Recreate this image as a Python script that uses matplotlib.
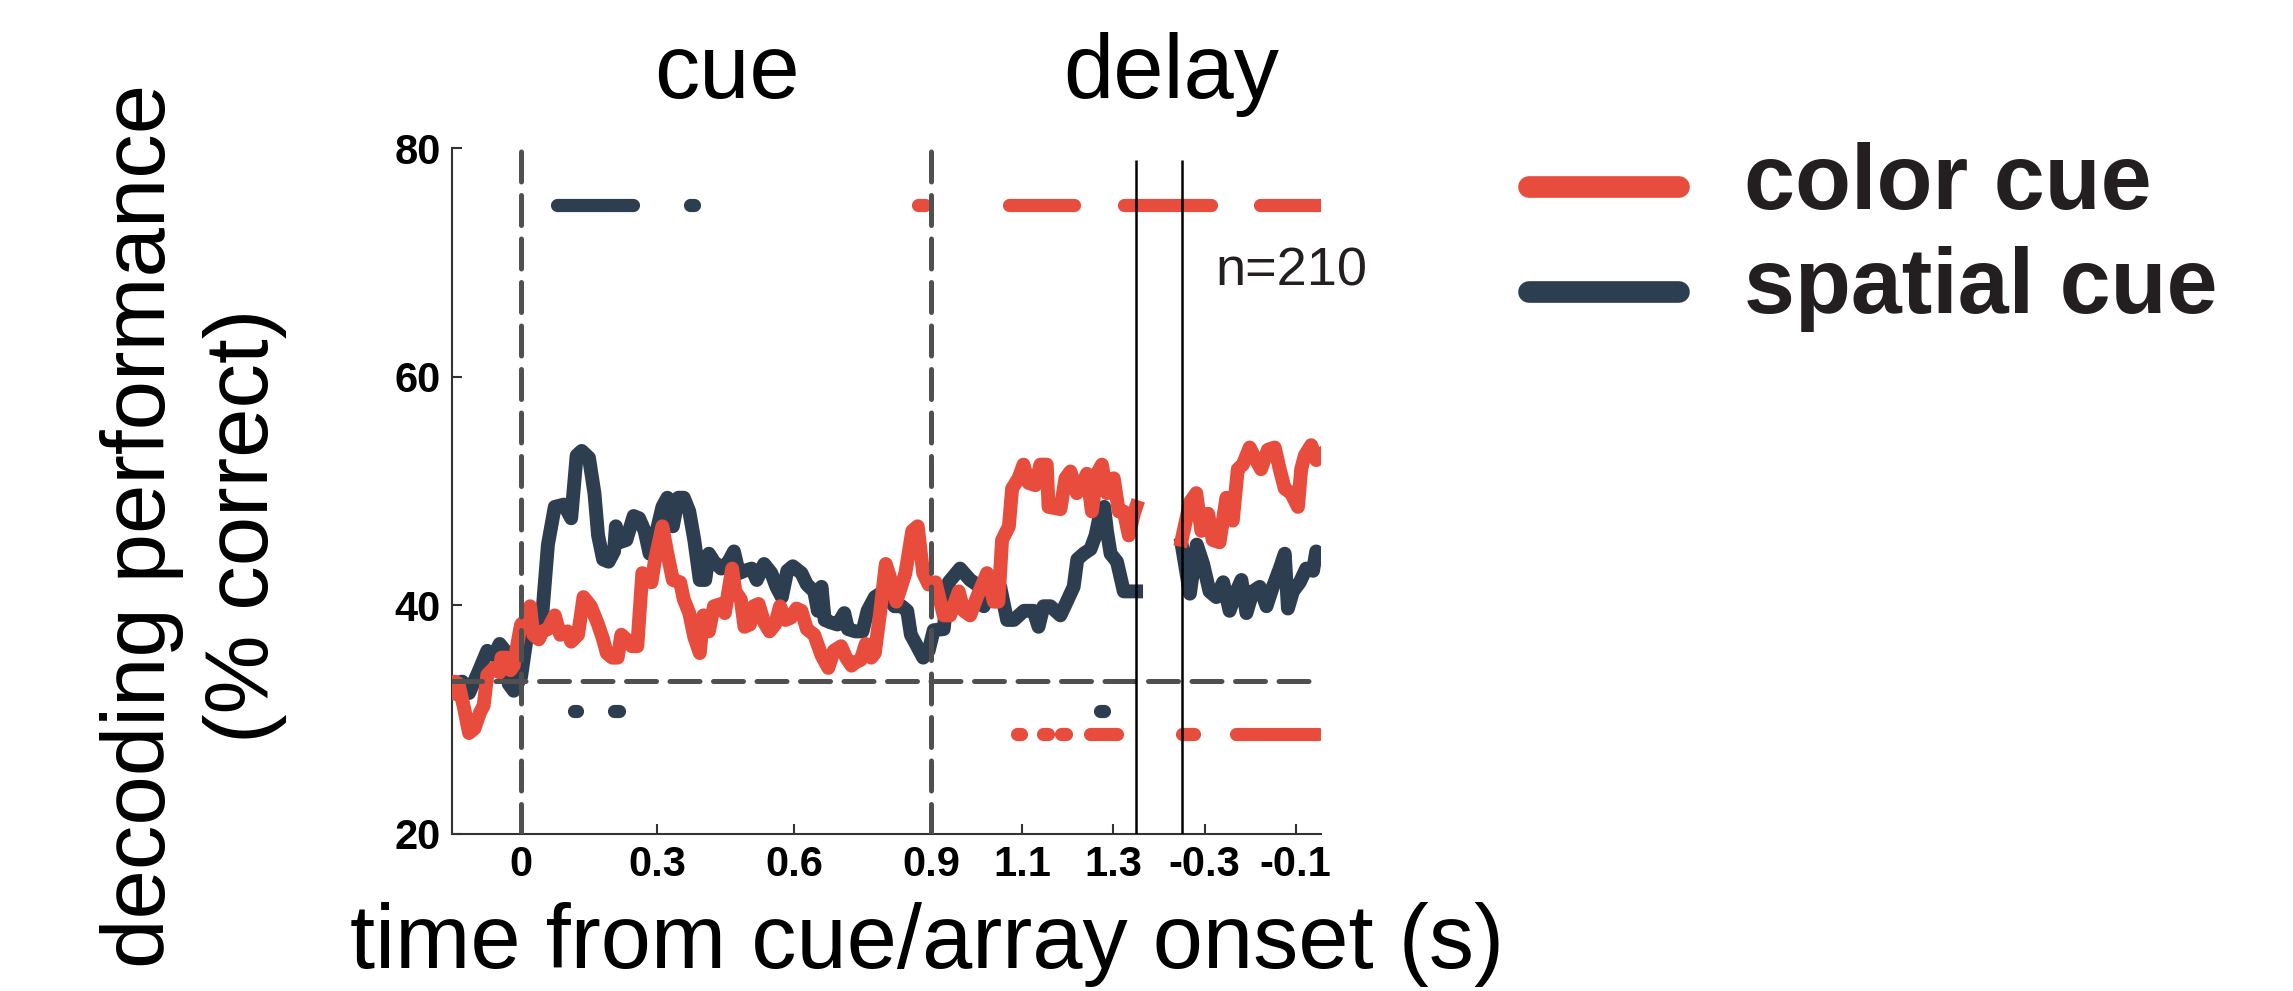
import matplotlib
matplotlib.use("Agg")
import matplotlib.pyplot as plt
import matplotlib.transforms as mtransforms
from matplotlib.lines import Line2D

plt.rcParams["font.family"] = ["Liberation Sans", "DejaVu Sans"]

RED = "#E74C3C"
NAVY = "#2C3E50"
GRAY = "#505050"
INK = "#231F20"
TICK_FONT = ["Liberation Sans Narrow", "Liberation Sans", "DejaVu Sans"]

# -------- time axis: cue-aligned part, gap, array-aligned part --------
CUE_END = 1.35
ARRAY_START = -0.35
GAP = 0.1
SHIFT = CUE_END + GAP - ARRAY_START      # array-aligned time -> plot x
CHANCE = 100 / 3

cue_ticks = [0, 0.3, 0.6, 0.9, 1.1, 1.3]
cue_tick_labels = ["0", "0.3", "0.6", "0.9", "1.1", "1.3"]
array_ticks = [-0.3, -0.1]
array_tick_labels = ["-0.3", "-0.1"]
y_ticks = [20, 40, 60, 80]

# -------- spatial cue (navy) --------
spatial_cue_t = [-0.150, -0.128, -0.113, -0.093, -0.073, -0.058, -0.046, -0.034, -0.026, -0.015,
                 0.001, 0.013, 0.028, 0.044, 0.060, 0.075, 0.095, 0.111, 0.123, 0.134,
                 0.150, 0.162, 0.170, 0.181, 0.193, 0.205, 0.209, 0.217, 0.232, 0.248,
                 0.260, 0.272, 0.283, 0.295, 0.311, 0.322, 0.334, 0.346, 0.358, 0.370,
                 0.381, 0.393, 0.405, 0.413, 0.424, 0.440, 0.456, 0.468, 0.479, 0.491,
                 0.507, 0.518, 0.534, 0.550, 0.561, 0.573, 0.585, 0.597, 0.616, 0.628,
                 0.644, 0.652, 0.660, 0.667, 0.679, 0.695, 0.710, 0.718, 0.734, 0.750,
                 0.761, 0.777, 0.789, 0.804, 0.820, 0.836, 0.848, 0.856, 0.867, 0.883,
                 0.895, 0.906, 0.928, 0.939, 0.964, 0.986, 1.008, 1.016, 1.030, 1.052,
                 1.067, 1.082, 1.104, 1.125, 1.136, 1.147, 1.162, 1.184, 1.198, 1.213,
                 1.221, 1.235, 1.250, 1.261, 1.272, 1.280, 1.286, 1.294, 1.308, 1.323,
                 1.345, 1.350]
spatial_cue_v = [33.1, 33.3, 32.3, 34.1, 36.0, 35.6, 36.6, 36.0, 33.1, 32.5,
                 33.7, 37.0, 39.5, 37.4, 45.3, 48.6, 48.8, 47.6, 53.1, 53.5,
                 52.9, 49.8, 46.1, 44.0, 43.8, 44.7, 46.9, 45.5, 45.7, 47.8,
                 47.6, 46.5, 44.5, 45.9, 48.6, 49.4, 46.9, 49.4, 49.4, 48.2,
                 45.7, 42.2, 42.2, 44.5, 43.8, 43.2, 43.8, 44.7, 42.8, 43.0,
                 43.2, 42.2, 43.6, 42.8, 41.6, 40.7, 43.0, 43.4, 42.8, 41.8,
                 41.2, 39.5, 41.6, 38.7, 38.5, 38.3, 39.3, 37.9, 37.7, 37.7,
                 39.5, 40.7, 41.0, 40.7, 39.9, 39.9, 39.5, 37.4, 36.6, 35.4,
                 36.0, 37.8, 37.9, 42.0, 43.2, 42.2, 41.6, 39.9, 41.2, 41.6,
                 38.7, 38.7, 39.5, 39.5, 38.1, 39.9, 39.9, 39.1, 40.3, 41.6,
                 44.0, 44.5, 44.9, 46.1, 48.2, 48.6, 46.5, 44.5, 43.8, 41.2,
                 41.2, 41.2]
spatial_array_t = [-0.350, -0.332, -0.317, -0.303, -0.289, -0.274, -0.259, -0.245, -0.230, -0.219,
                   -0.208, -0.194, -0.179, -0.164, -0.150, -0.135, -0.124, -0.117, -0.106, -0.091,
                   -0.077, -0.062, -0.055, -0.045]
spatial_array_v = [45.3, 41.0, 45.3, 43.6, 41.2, 40.7, 42.0, 39.5, 41.2, 42.2,
                   39.3, 41.2, 41.6, 39.9, 41.6, 43.2, 44.5, 39.7, 41.2, 42.0,
                   43.2, 43.0, 44.7, 44.3]

# -------- color cue (red) --------
color_cue_t = [-0.150, -0.144, -0.136, -0.124, -0.113, -0.101, -0.089, -0.081, -0.073, -0.058,
               -0.046, -0.042, -0.030, -0.022, -0.015, -0.007, 0.001, 0.013, 0.021, 0.028,
               0.040, 0.048, 0.060, 0.075, 0.087, 0.103, 0.111, 0.126, 0.138, 0.154,
               0.170, 0.181, 0.189, 0.201, 0.213, 0.221, 0.232, 0.244, 0.256, 0.267,
               0.287, 0.295, 0.311, 0.322, 0.334, 0.350, 0.358, 0.370, 0.381, 0.393,
               0.401, 0.413, 0.424, 0.440, 0.448, 0.464, 0.471, 0.483, 0.491, 0.503,
               0.511, 0.522, 0.534, 0.546, 0.558, 0.569, 0.581, 0.593, 0.605, 0.616,
               0.628, 0.644, 0.660, 0.675, 0.687, 0.703, 0.714, 0.726, 0.734, 0.746,
               0.757, 0.769, 0.777, 0.789, 0.801, 0.809, 0.824, 0.844, 0.859, 0.871,
               0.883, 0.895, 0.910, 0.928, 0.942, 0.961, 0.972, 0.986, 1.001, 1.023,
               1.038, 1.048, 1.056, 1.071, 1.078, 1.092, 1.103, 1.114, 1.129, 1.140,
               1.154, 1.158, 1.184, 1.195, 1.206, 1.220, 1.228, 1.242, 1.253, 1.264,
               1.275, 1.286, 1.301, 1.312, 1.323, 1.334, 1.345, 1.350]
color_cue_v = [32.3, 33.3, 33.1, 31.0, 28.8, 29.2, 30.6, 31.2, 33.9, 34.5,
               34.1, 35.4, 35.4, 34.3, 34.7, 36.6, 38.3, 38.7, 39.9, 37.4,
               37.0, 37.7, 37.9, 39.1, 37.4, 37.7, 36.8, 37.4, 40.7, 39.9,
               38.3, 37.0, 35.8, 35.4, 35.4, 37.4, 37.0, 36.4, 36.4, 42.8,
               42.0, 44.0, 46.9, 44.5, 42.2, 42.0, 40.5, 39.3, 37.2, 35.8,
               39.1, 37.7, 39.9, 40.1, 39.3, 43.2, 41.2, 40.5, 38.1, 38.3,
               39.9, 40.1, 38.5, 37.7, 38.3, 39.9, 38.7, 38.9, 39.7, 39.5,
               37.9, 37.4, 35.6, 34.5, 36.0, 36.4, 35.4, 34.7, 35.0, 35.2,
               36.6, 35.4, 35.8, 39.5, 43.6, 42.6, 40.3, 42.8, 46.5, 46.9,
               42.8, 41.8, 42.0, 39.1, 39.1, 41.2, 39.5, 39.1, 40.7, 42.8,
               40.3, 40.3, 45.7, 46.9, 50.2, 51.1, 52.3, 50.7, 50.5, 52.3,
               52.3, 48.6, 48.4, 51.1, 51.7, 49.8, 50.2, 51.5, 48.2, 51.5,
               52.3, 49.8, 51.1, 48.2, 48.2, 46.1, 48.0, 48.6]
color_array_t = [-0.350, -0.332, -0.318, -0.307, -0.292, -0.282, -0.267, -0.252, -0.238, -0.227,
                 -0.216, -0.201, -0.187, -0.176, -0.161, -0.146, -0.135, -0.124, -0.110, -0.095,
                 -0.088, -0.080, -0.066, -0.055, -0.045]
color_array_v = [45.7, 49.0, 49.8, 46.5, 48.0, 45.7, 45.5, 49.4, 47.4, 51.9,
                 52.3, 53.8, 52.7, 51.9, 53.6, 53.8, 51.9, 50.2, 49.8, 48.6,
                 51.9, 53.1, 54.0, 52.7, 53.1]

# -------- significance bars (start, end) --------
SIG_HIGH = 75.0
SIG_LOW_SPATIAL = 30.7
SIG_LOW_COLOR = 28.75
spatial_high_cue = [(0.079, 0.247), (0.372, 0.380)]
spatial_high_array = []
spatial_low_cue = [(0.117, 0.123), (0.206, 0.215), (1.271, 1.280)]
spatial_low_array = []
color_high_cue = [(0.871, 0.888), (1.072, 1.214), (1.323, 1.350)]
color_high_array = [(-0.350, -0.286), (-0.178, -0.047)]
color_low_cue = [(1.089, 1.098), (1.146, 1.156), (1.186, 1.196), (1.248, 1.307)]
color_low_array = [(-0.350, -0.323), (-0.232, -0.052)]


def to_x(times, aligned):
    return [t + SHIFT if aligned == "array" else t for t in times]


def bar_spans(cue_spans, array_spans):
    spans = list(cue_spans)
    arr = [(a + SHIFT, b + SHIFT) for a, b in array_spans]
    # a bar running to the end of the cue part continues through the gap
    if spans and arr and abs(spans[-1][1] - CUE_END) < 1e-6 and abs(array_spans[0][0] - ARRAY_START) < 1e-6:
        spans[-1] = (spans[-1][0], arr[0][1])
        arr = arr[1:]
    return spans + arr


fig = plt.figure(figsize=(22.93, 9.91), dpi=100)
ax = fig.add_axes([0.1972, 0.1589, 0.3788, 0.6915])

LW = 10
for t, v, aligned in [(spatial_cue_t, spatial_cue_v, "cue"), (spatial_array_t, spatial_array_v, "array")]:
    ax.plot(to_x(t, aligned), v, color=NAVY, lw=LW, solid_joinstyle="round", zorder=3)
for t, v, aligned in [(color_cue_t, color_cue_v, "cue"), (color_array_t, color_array_v, "array")]:
    ax.plot(to_x(t, aligned), v, color=RED, lw=LW, solid_joinstyle="round", zorder=4)

for spans, y, c in [(bar_spans(spatial_high_cue, spatial_high_array), SIG_HIGH, NAVY),
                    (bar_spans(spatial_low_cue, spatial_low_array), SIG_LOW_SPATIAL, NAVY),
                    (bar_spans(color_high_cue, color_high_array), SIG_HIGH, RED),
                    (bar_spans(color_low_cue, color_low_array), SIG_LOW_COLOR, RED)]:
    for a, b in spans:
        ax.plot([a, b], [y, y], color=c, lw=9.5, solid_capstyle="round", zorder=3)

# reference lines
dash_kw = dict(color=GRAY, lw=3.6, dashes=(6, 2.7), dash_capstyle="round", zorder=5)
ax.axhline(CHANCE, **dash_kw)
for t in [0, 0.9]:
    ax.axvline(t, **dash_kw)
ax.vlines([CUE_END, ARRAY_START + SHIFT], 20, 79, color="black", lw=1.8, zorder=5)

ax.set_xlim(-0.15, -0.045 + SHIFT)
ax.set_ylim(20, 80)
ax.set_xticks(cue_ticks + to_x(array_ticks, "array"))
ax.set_xticklabels(cue_tick_labels + array_tick_labels)
ax.set_yticks(y_ticks)
ax.tick_params(direction="in", length=7.5, width=1.5, color="#333333", pad=8, labelsize=30)
for lbl in ax.get_xticklabels() + ax.get_yticklabels():
    lbl.set_family(TICK_FONT)
    lbl.set_weight("bold")
for side in ["top", "right"]:
    ax.spines[side].set_visible(False)
for side in ["left", "bottom"]:
    ax.spines[side].set_linewidth(1.5)
    ax.spines[side].set_color("#333333")

# epoch labels above the axes
top = mtransforms.blended_transform_factory(ax.transData, fig.transFigure)
ax.text(0.452, 0.9016, "cue", transform=top, fontsize=65, ha="center", va="baseline", color="black")
ax.text(1.428, 0.9016, "delay", transform=top, fontsize=65, ha="center", va="baseline", color="black")
ax.text(1.525, 68.0, "n=210", fontsize=39, color=INK, ha="left", va="baseline")

fig.text(0.0844, 0.4692, "decoding performance\n(% correct)", rotation=90,
         ha="center", va="center", fontsize=64, linespacing=1.3, color="black")
fig.text(0.4042, 0.0232, "time from cue/array onset (s)", ha="center", va="baseline",
         fontsize=65, color="black")

# legend
for y, c, name, base in [(0.8108, RED, "color cue", 0.7888), (0.7058, NAVY, "spatial cue", 0.6839)]:
    fig.add_artist(Line2D([0.6669, 0.7323], [y, y], color=c, lw=15.6, solid_capstyle="round",
                          transform=fig.transFigure))
    fig.text(0.7606, base, name, fontsize=66, fontweight="bold", color=INK, va="baseline", ha="left")

fig.savefig("out.png", dpi=100)
